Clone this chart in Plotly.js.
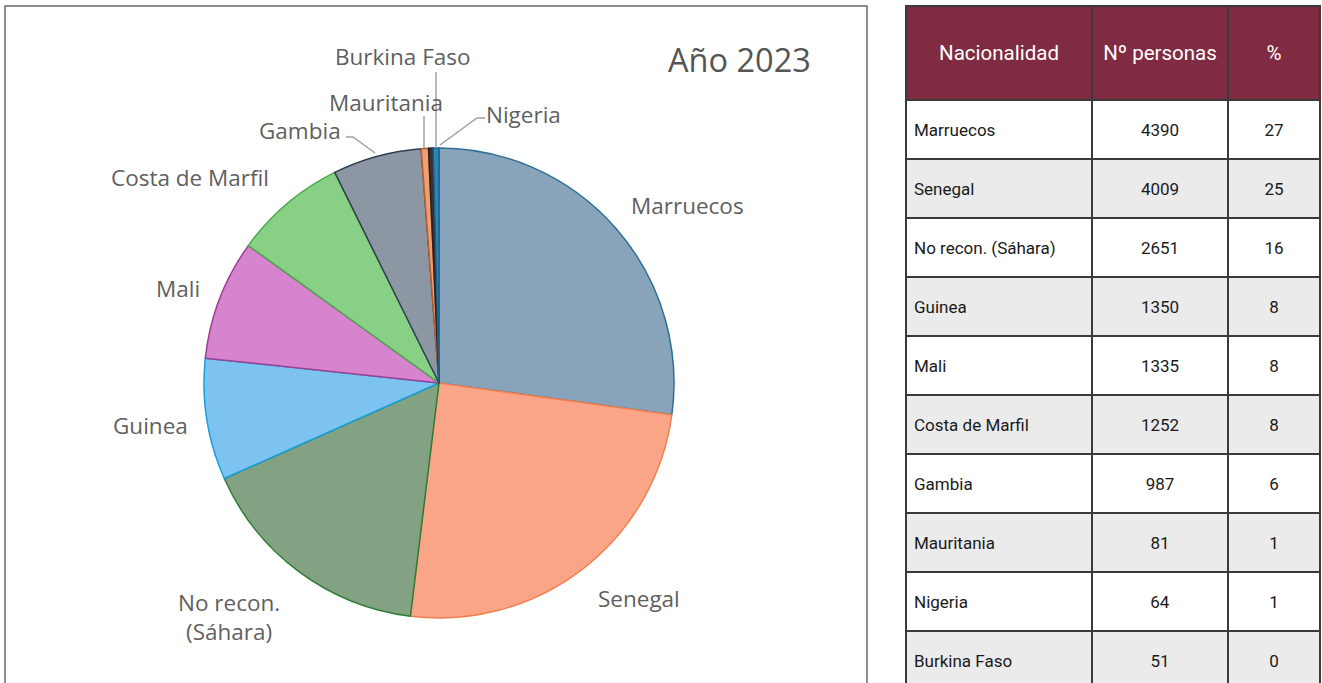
<!DOCTYPE html>
<html>
<head>
<meta charset="utf-8">
<script src="https://cdn.plot.ly/plotly-3.0.1.min.js"></script>
<style>
  html, body { margin: 0; padding: 0; background: #ffffff; overflow: hidden; }
  #chart { width: 1322px; height: 690px; }
</style>
</head>
<body>
<div id="chart"></div>
<script>
// ---- data (table order) ----
const nacionalidades = ["Marruecos", "Senegal", "No recon. (Sáhara)", "Guinea", "Mali",
  "Costa de Marfil", "Gambia", "Mauritania", "Nigeria", "Burkina Faso"];
const personas = [4390, 4009, 2651, 1350, 1335, 1252, 987, 81, 64, 51];
const porcentajes = [27, 25, 16, 8, 8, 8, 6, 1, 1, 0];
const tableHeader = ["Nacionalidad", "Nº personas", "%"];
const chartTitle = "Año 2023";

// ---- pie order (clockwise from 12 o'clock, as in the picture) ----
const pieOrder = ["Marruecos", "Senegal", "No recon. (Sáhara)", "Guinea", "Mali",
  "Costa de Marfil", "Gambia", "Mauritania", "Burkina Faso", "Nigeria"];

// ---- styles ----
const sliceFill = {
  "Marruecos": "#88a4bb", "Senegal": "#fba588", "No recon. (Sáhara)": "#82a283",
  "Guinea": "#7cc3ef", "Mali": "#d584cd", "Costa de Marfil": "#88d085",
  "Gambia": "#8c97a3", "Mauritania": "#f0a070", "Burkina Faso": "#3a3030", "Nigeria": "#2a86b8"
};
const sliceLine = {
  "Marruecos": "#2f6f96", "Senegal": "#f08050", "No recon. (Sáhara)": "#2e7d32",
  "Guinea": "#1a9fd8", "Mali": "#9c3f96", "Costa de Marfil": "#4aa84a",
  "Gambia": "#2f3f4f", "Mauritania": "#b8602e", "Burkina Faso": "#2a2020", "Nigeria": "#1d5f8a"
};

const W = 1322, H = 690;
const px = x => x / W;
const py = y => 1 - y / H;

const pieValues = pieOrder.map(n => personas[nacionalidades.indexOf(n)]);

const pie = {
  type: "pie",
  labels: pieOrder,
  values: pieValues,
  sort: false,
  direction: "clockwise",
  rotation: 0,
  textinfo: "none",
  hoverinfo: "label+value+percent",
  showlegend: false,
  marker: {
    colors: pieOrder.map(n => sliceFill[n]),
    line: { color: pieOrder.map(n => sliceLine[n]), width: 1.5 }
  },
  domain: { x: [px(439 - 235), px(439 + 235)], y: [py(383 + 235), py(383 - 235)] }
};

// zebra fills
const rowFill = nacionalidades.map((_, i) => i % 2 === 0 ? "#ffffff" : "#ebebeb");
// a leading spacer line pushes the (top-aligned) table text towards the middle of the row
const padHeader = v => "\u00a0<br>" + v;
const padCell = v => "<span style=\"font-size:6px\">\u00a0</span><br>" + v;

const table = {
  type: "table",
  domain: { x: [px(906), px(1321)], y: [py(690), py(6)] },
  columnwidth: [186, 136, 92],
  header: {
    values: tableHeader.map(padHeader),
    align: ["center", "center", "center"],
    height: 94,
    fill: { color: "#7f2b41" },
    line: { color: "#3a3a3a", width: 1.5 },
    font: { family: "Roboto, sans-serif", size: 20.5, color: "#ffffff" }
  },
  cells: {
    values: [nacionalidades.map(padCell), personas.map(padCell), porcentajes.map(padCell)],
    align: ["left", "center", "center"],
    height: 59,
    fill: { color: [rowFill, rowFill, rowFill] },
    line: { color: "#3a3a3a", width: 1.5 },
    font: { family: "Roboto, sans-serif", size: 17, color: "#1a1a1a" }
  }
};

// labels (positions in pixels of the 1322x690 canvas)
const labelFont = { family: "Open Sans, sans-serif", size: 22.5, color: "#5f5f5f" };
const labelPos = [
  { text: "Marruecos", x: 687, y: 205 },
  { text: "Senegal", x: 639, y: 598 },
  { text: "No recon.<br>(Sáhara)", x: 229, y: 617 },
  { text: "Guinea", x: 150, y: 425 },
  { text: "Mali", x: 178, y: 289 },
  { text: "Costa de Marfil", x: 190, y: 177 },
  { text: "Gambia", x: 300, y: 131 },
  { text: "Mauritania", x: 386, y: 102 },
  { text: "Burkina Faso", x: 403, y: 57 },
  { text: "Nigeria", x: 523, y: 115 }
];
const annotations = labelPos.map(l => ({
  xref: "paper", yref: "paper", x: px(l.x), y: py(l.y),
  xanchor: "center", yanchor: "middle", showarrow: false,
  text: l.text, font: labelFont
}));
annotations.push({
  xref: "paper", yref: "paper", x: px(739), y: py(60),
  xanchor: "center", yanchor: "middle", showarrow: false,
  text: chartTitle, font: { family: "Open Sans, sans-serif", size: 32.5, color: "#555555" }
});

const leaderStyle = { color: "#a0a0a0", width: 1.5 };
const leaders = [
  [[346, 137], [353, 137], [375, 153]],          // Gambia
  [[424, 116], [424, 148]],                      // Mauritania
  [[436, 72], [436, 148]],                       // Burkina Faso
  [[485, 118], [477, 118], [440, 145]]           // Nigeria
];
const shapes = leaders.map(pts => ({
  type: "path", xref: "paper", yref: "paper",
  path: "M" + pts.map(p => px(p[0]) + "," + py(p[1])).join(" L"),
  line: leaderStyle
}));
// box around the pie
shapes.push({
  type: "path", xref: "paper", yref: "paper",
  path: "M" + px(5) + "," + py(700) + " L" + px(5) + "," + py(6) +
        " L" + px(867) + "," + py(6) + " L" + px(867) + "," + py(700),
  line: { color: "#6a6a6a", width: 1.5 }
});

const layout = {
  width: W, height: H,
  margin: { l: 0, r: 0, t: 0, b: 0 },
  paper_bgcolor: "#ffffff",
  plot_bgcolor: "#ffffff",
  showlegend: false,
  annotations: annotations,
  shapes: shapes
};

Plotly.newPlot("chart", [pie, table], layout, { displayModeBar: false, staticPlot: true });
</script>
</body>
</html>
